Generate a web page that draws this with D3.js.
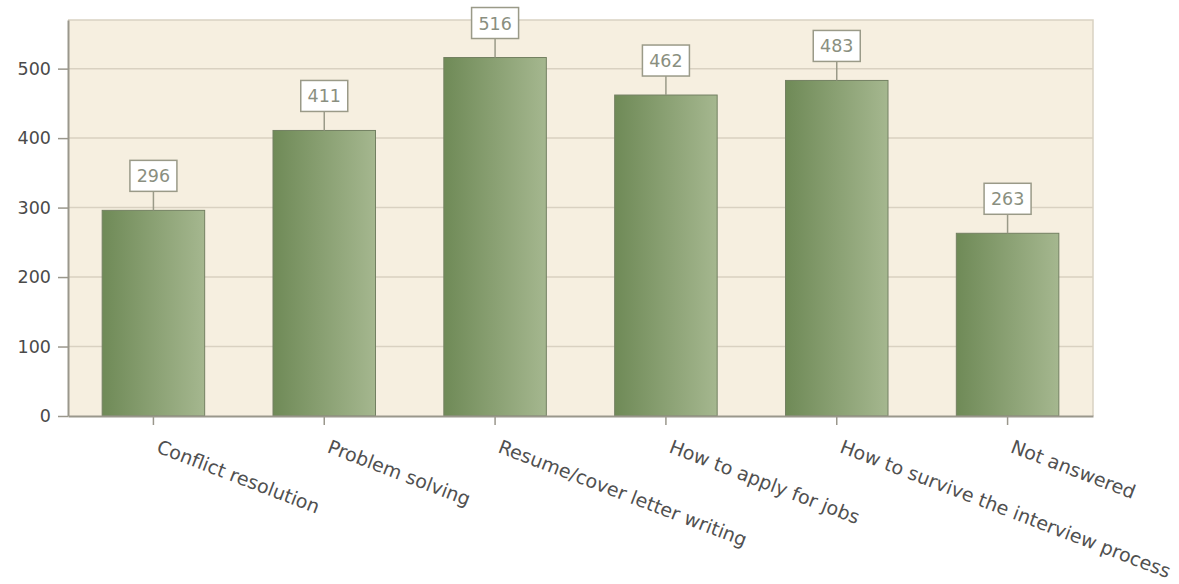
<!DOCTYPE html>
<html><head><meta charset="utf-8">
<script src="https://cdn.jsdelivr.net/npm/d3@7"></script>
<style>body{margin:0;background:#fff}svg{display:block}text{font-family:"DejaVu Sans",Verdana,sans-serif}</style>
</head><body><svg id="c" width="1179" height="584"></svg>
<script>
const categories = ["Conflict resolution","Problem solving","Resume/cover letter writing","How to apply for jobs","How to survive the interview process","Not answered"];
const values = [296,411,516,462,483,263];
const yTicks = [0,100,200,300,400,500];

const svg = d3.select("#c");
const m = {l:68, t:20, r:1093, b:416};
const x = d3.scaleBand().domain(categories).range([m.l,m.r]).paddingInner(0.4).paddingOuter(0.2);
const y = d3.scaleLinear().domain([0,570]).range([m.b,m.t]);

const defs = svg.append("defs");
const g = defs.append("linearGradient").attr("id","bg").attr("x1","0").attr("x2","1").attr("y1","0").attr("y2","0");
g.append("stop").attr("offset","0").attr("stop-color","#6f8a57");
g.append("stop").attr("offset","1").attr("stop-color","#a5b78f");

svg.append("rect").attr("x",m.l).attr("y",m.t).attr("width",m.r-m.l).attr("height",m.b-m.t).attr("fill","#f6efe0");
svg.append("path").attr("d",`M${m.l},${m.t}H${m.r}V${m.b}`).attr("fill","none").attr("stroke","#d9d2c2").attr("stroke-width",1.5);

svg.append("g").selectAll("line").data(yTicks.filter(d=>d>0)).join("line")
  .attr("x1",m.l).attr("x2",m.r).attr("y1",d=>y(d)).attr("y2",d=>y(d))
  .attr("stroke","#d9d1c1").attr("stroke-width",1.5);

const axisCol = "#9a978c";
const ya = svg.append("g").attr("transform",`translate(${m.l},0)`)
  .call(d3.axisLeft(y).tickValues(yTicks).tickSize(10).tickSizeOuter(0).tickPadding(7));
ya.select(".domain").attr("stroke",axisCol).attr("stroke-width",2);
ya.selectAll(".tick line").attr("stroke",axisCol).attr("stroke-width",1.5);
ya.selectAll("text").attr("font-size",17.5).attr("fill","#4a4a4a");

svg.append("g").selectAll("rect").data(values).join("rect")
  .attr("x",(d,i)=>x(categories[i])).attr("width",x.bandwidth())
  .attr("y",d=>y(d)).attr("height",d=>y(0)-y(d))
  .attr("fill","url(#bg)").attr("stroke","#738062").attr("stroke-width",1);

const xa = svg.append("g").attr("transform",`translate(0,${m.b})`)
  .call(d3.axisBottom(x).tickSize(9).tickSizeOuter(0));
xa.select(".domain").attr("stroke",axisCol).attr("stroke-width",2);
xa.selectAll(".tick line").attr("stroke",axisCol).attr("stroke-width",1.5);
xa.selectAll("text").attr("font-size",19).attr("fill","#505050")
  .attr("text-anchor","start").attr("dy",null).attr("y",0)
  .attr("transform","translate(2,36) rotate(21)");

const lab = svg.append("g").selectAll("g").data(values).join("g")
  .attr("transform",(d,i)=>`translate(${x(categories[i])+x.bandwidth()/2},${y(d)})`);
lab.append("line").attr("x1",0).attr("x2",0).attr("y1",0).attr("y2",-19).attr("stroke","#9a9a88").attr("stroke-width",1.5);
lab.append("rect").attr("x",-23.5).attr("y",-50).attr("width",47).attr("height",31)
  .attr("fill","#fff").attr("stroke","#9a9a88").attr("stroke-width",1.5);
lab.append("text").attr("y",-28).attr("text-anchor","middle").attr("font-size",17.5).attr("fill","#8a8f80").text(d=>d);
</script></body></html>
